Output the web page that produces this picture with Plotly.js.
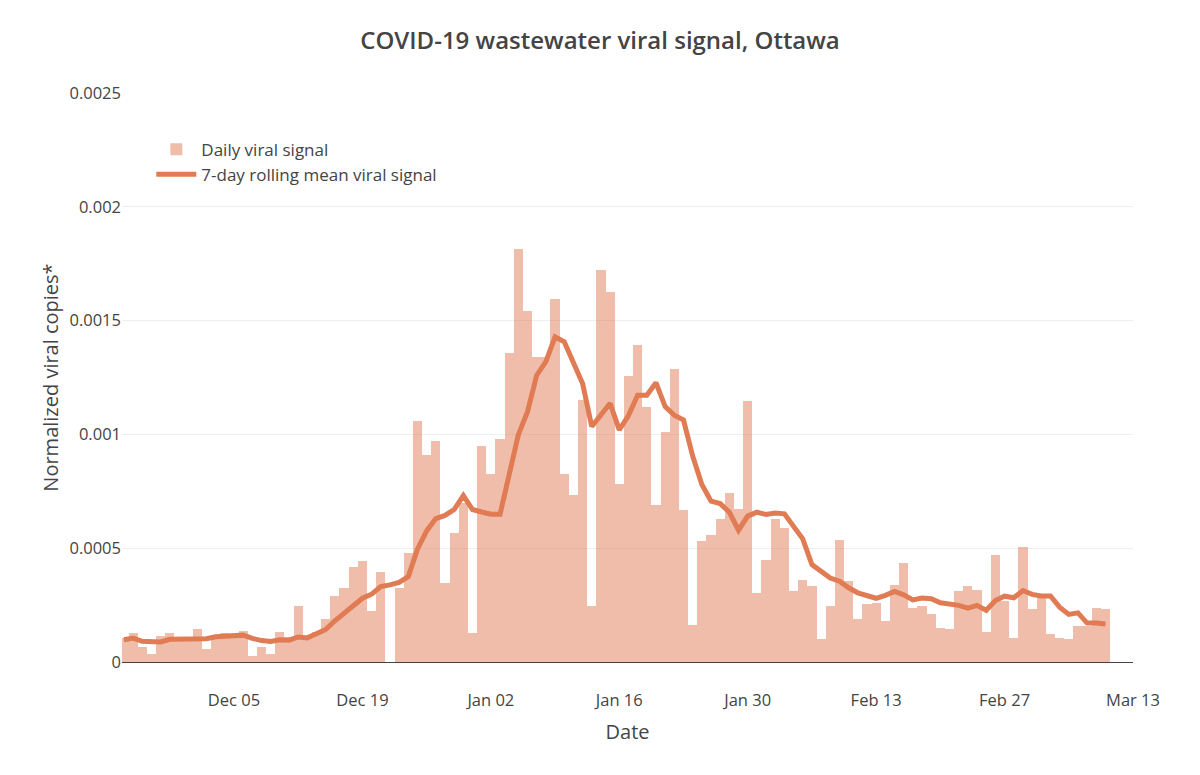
<!DOCTYPE html>
<html>
<head>
<meta charset="utf-8">
<script src="https://cdn.plot.ly/plotly-3.0.1.min.js"></script>
<style>html,body{margin:0;padding:0;background:#fff;}#chart{width:1200px;height:775px;}</style>
</head>
<body>
<div id="chart"></div>
<script>
// Dates: daily from 2021-11-23 to 2022-03-10
const startDate = '2021-11-23';
const dayCount = 108;

const dailySignal = [
  0.000105, 0.000127, 0.000068, 0.000037, 0.000113, 0.000127, 0.000105, 0.000106, 0.000143, 0.000058,
  0.000110, 0.000129, 0.000124, 0.000135, 0.000027, 0.000066, 0.000037, 0.000130, 0.000110, 0.000244,
  0.000105, 0.000130, 0.000190, 0.000288, 0.000325, 0.000417, 0.000443, 0.000225, 0.000395, null,
  0.000326, 0.000481, 0.001057, 0.000911, 0.000969, 0.000347, 0.000569, 0.000700, 0.000127, 0.000948,
  0.000824, 0.000980, 0.001356, 0.001815, 0.001542, 0.001338, 0.001340, 0.001596, 0.000824, 0.000732,
  0.001152, 0.000245, 0.001723, 0.001625, 0.000784, 0.001257, 0.001394, 0.001122, 0.000689, 0.001012,
  0.001289, 0.000666, 0.000164, 0.000531, 0.000560, 0.000629, 0.000743, 0.000673, 0.001147, 0.000304,
  0.000450, 0.000629, 0.000587, 0.000311, 0.000362, 0.000336, 0.000103, 0.000245, 0.000535, 0.000355,
  0.000189, 0.000254, 0.000260, 0.000181, 0.000339, 0.000434, 0.000238, 0.000244, 0.000212, 0.000151,
  0.000146, 0.000314, 0.000332, 0.000317, 0.000132, 0.000470, 0.000270, 0.000107, 0.000504, 0.000231,
  0.000280, 0.000124, 0.000107, 0.000099, 0.000158, 0.000158, 0.000237, 0.000231
];

const rollingMean = [
  0.000098, 0.000105, 0.000091, 0.000088, 0.000088, 0.000100, 0.000100, 0.000100, 0.000101, 0.000102,
  0.000111, 0.000115, 0.000115, 0.000118, 0.000104, 0.000094, 0.000090, 0.000098, 0.000096, 0.000110,
  0.000106, 0.000123, 0.000143, 0.000181, 0.000214, 0.000253, 0.000280, 0.000298, 0.000331, 0.000339,
  0.000350, 0.000375, 0.000496, 0.000576, 0.000630, 0.000644, 0.000670, 0.000731, 0.000670, 0.000659,
  0.000649, 0.000649, 0.000816, 0.000999, 0.001100, 0.001260, 0.001320, 0.001429, 0.001407, 0.001320,
  0.001224, 0.001035, 0.001086, 0.001137, 0.001020, 0.001083, 0.001172, 0.001172, 0.001227, 0.001122,
  0.001084, 0.001063, 0.000905, 0.000780, 0.000707, 0.000696, 0.000658, 0.000579, 0.000641, 0.000658,
  0.000648, 0.000655, 0.000651, 0.000597, 0.000541, 0.000428, 0.000399, 0.000369, 0.000355, 0.000326,
  0.000304, 0.000290, 0.000280, 0.000293, 0.000310, 0.000295, 0.000273, 0.000281, 0.000278, 0.000260,
  0.000254, 0.000249, 0.000237, 0.000249, 0.000227, 0.000270, 0.000289, 0.000282, 0.000314, 0.000297,
  0.000290, 0.000290, 0.000241, 0.000209, 0.000216, 0.000171, 0.000171, 0.000167
];

const yTickVals = [0, 0.0005, 0.001, 0.0015, 0.002, 0.0025];
const yTickText = ['0', '0.0005', '0.001', '0.0015', '0.002', '0.0025'];
const xTickVals = ['2021-12-05', '2021-12-19', '2022-01-02', '2022-01-16', '2022-01-30', '2022-02-13', '2022-02-27', '2022-03-13'];
const xTickText = ['Dec 05', 'Dec 19', 'Jan 02', 'Jan 16', 'Jan 30', 'Feb 13', 'Feb 27', 'Mar 13'];

function buildDates(start, n) {
  const out = [];
  const d0 = new Date(start + 'T00:00:00Z');
  for (let i = 0; i < n; i++) {
    const d = new Date(d0.getTime() + i * 86400000);
    out.push(d.toISOString().slice(0, 10));
  }
  return out;
}
const dates = buildDates(startDate, dayCount);

const lineColor = 'rgb(224,123,83)';
const barColor = 'rgba(224,123,83,0.5)';

const traces = [
  {
    type: 'bar',
    name: 'Daily viral signal',
    x: dates,
    y: dailySignal,
    marker: {color: barColor, line: {width: 0}},
    hoverinfo: 'x+y'
  },
  {
    type: 'scatter',
    mode: 'lines',
    name: '7-day rolling mean viral signal',
    x: dates,
    y: rollingMean,
    line: {color: lineColor, width: 5}
  }
];

const layout = {
  width: 1200,
  height: 775,
  paper_bgcolor: '#fff',
  plot_bgcolor: '#fff',
  font: {family: '"Open Sans", verdana, arial, sans-serif', color: '#444', size: 16},
  title: {
    text: 'COVID-19 wastewater viral signal, Ottawa',
    font: {family: '"Open Sans", sans-serif', size: 24, color: '#444', weight: 600},
    x: 0.5, xanchor: 'center', y: 0.948, yanchor: 'middle'
  },
  margin: {l: 122, r: 67, t: 93, b: 113},
  bargap: 0,
  showlegend: true,
  legend: {
    x: 0.029, y: 0.932, xanchor: 'left', yanchor: 'top',
    bgcolor: 'rgba(0,0,0,0)',
    font: {size: 17, color: '#444'},
    itemwidth: 40,
    tracegroupgap: 0,
    traceorder: 'normal'
  },
  xaxis: {
    type: 'date',
    range: ['2021-11-22 19:00', '2022-03-13'],
    tickvals: xTickVals,
    ticktext: xTickText,
    showgrid: false,
    showline: true,
    linecolor: '#444',
    linewidth: 1,
    ticks: 'outside',
    ticklen: 23,
    tickcolor: 'rgba(0,0,0,0)',
    tickfont: {size: 16.5, color: '#444'},
    title: {text: 'Date', font: {size: 20, color: '#444'}, standoff: 15}
  },
  yaxis: {
    range: [0, 0.0025],
    tickvals: yTickVals,
    ticktext: yTickText,
    showgrid: true,
    gridcolor: '#eee',
    zeroline: true,
    zerolinecolor: '#444',
    zerolinewidth: 1,
    tickfont: {size: 16.5, color: '#444'},
    title: {text: 'Normalized viral copies*', font: {size: 20, color: '#444'}, standoff: 5}
  }
};

Plotly.newPlot('chart', traces, layout, {displayModeBar: false, responsive: false});
</script>
</body>
</html>
